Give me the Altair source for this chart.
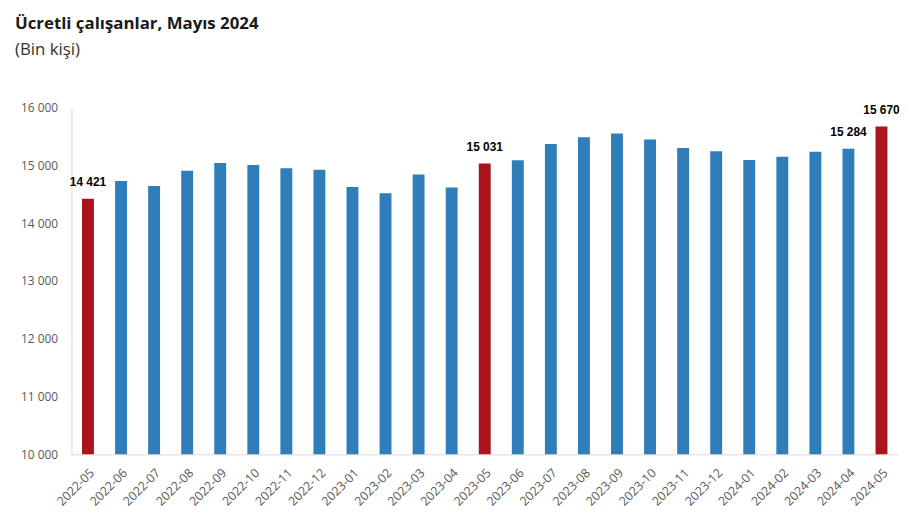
import altair as alt
import pandas as pd

months = ["2022-05", "2022-06", "2022-07", "2022-08", "2022-09", "2022-10", "2022-11",
          "2022-12", "2023-01", "2023-02", "2023-03", "2023-04", "2023-05", "2023-06",
          "2023-07", "2023-08", "2023-09", "2023-10", "2023-11", "2023-12", "2024-01",
          "2024-02", "2024-03", "2024-04", "2024-05"]
values = [14421, 14726, 14640, 14903, 15040, 15006, 14949, 14920, 14623, 14514,
          14840, 14617, 15031, 15086, 15366, 15486, 15549, 15446, 15297, 15240,
          15091, 15149, 15234, 15284, 15670]
highlight = ["2022-05", "2023-05", "2024-05"]
labelled = ["2022-05", "2023-05", "2024-04", "2024-05"]

df = pd.DataFrame({"month": months, "value": values})
df["group"] = ["h" if m in highlight else "n" for m in months]
df["label"] = [f"{v:,}".replace(",", " ") if m in labelled else "" for m, v in zip(months, values)]

base = alt.Chart(df)

bars = base.mark_bar(size=12).encode(
    x=alt.X("month:N", sort=months, title=None,
            axis=alt.Axis(labelAngle=-45, labelFont="Open Sans", labelFontSize=12.5,
                          labelColor="#595959", ticks=False, domainColor="#d9d9d9",
                          labelPadding=12)),
    y=alt.Y("value:Q", scale=alt.Scale(domain=[10000, 16000], zero=False), title=None,
            axis=alt.Axis(values=[10000, 11000, 12000, 13000, 14000, 15000, 16000],
                          labelExpr="replace(format(datum.value, ','), regexp(',', 'g'), ' ')",
                          grid=False, ticks=False, domainColor="#d9d9d9",
                          labelFont="Open Sans", labelFontSize=12, labelColor="#595959",
                          labelPadding=14)),
    y2=alt.Y2(datum=10000),
    color=alt.Color("group:N", scale=alt.Scale(domain=["n", "h"], range=["#2F7EBA", "#A8151D"]),
                    legend=None),
)

text = base.mark_text(baseline="bottom", dy=-10, font="Liberation Sans", fontSize=12,
                      fontWeight="bold", color="#000000").encode(
    x=alt.X("month:N", sort=months),
    y=alt.Y("value:Q"),
    text="label:N",
)

chart = (bars + text).properties(
    width=834, height=350,
    autosize=alt.AutoSizeParams(type="none"),
    padding={"left": 64, "top": 98, "right": 3, "bottom": 70},
    title=alt.TitleParams(
        text="Ücretli çalışanlar, Mayıs 2024",
        subtitle="(Bin kişi)",
        anchor="start", frame="group", dx=-57, offset=43,
        font="Open Sans", fontSize=17, fontWeight="bold", color="#1a1a1a",
        subtitleFont="Open Sans", subtitleFontSize=17, subtitleColor="#333333",
        subtitlePadding=9,
    ),
).configure_view(stroke=None)

chart.save("out.html", embed_options={"renderer": "svg", "actions": False})
